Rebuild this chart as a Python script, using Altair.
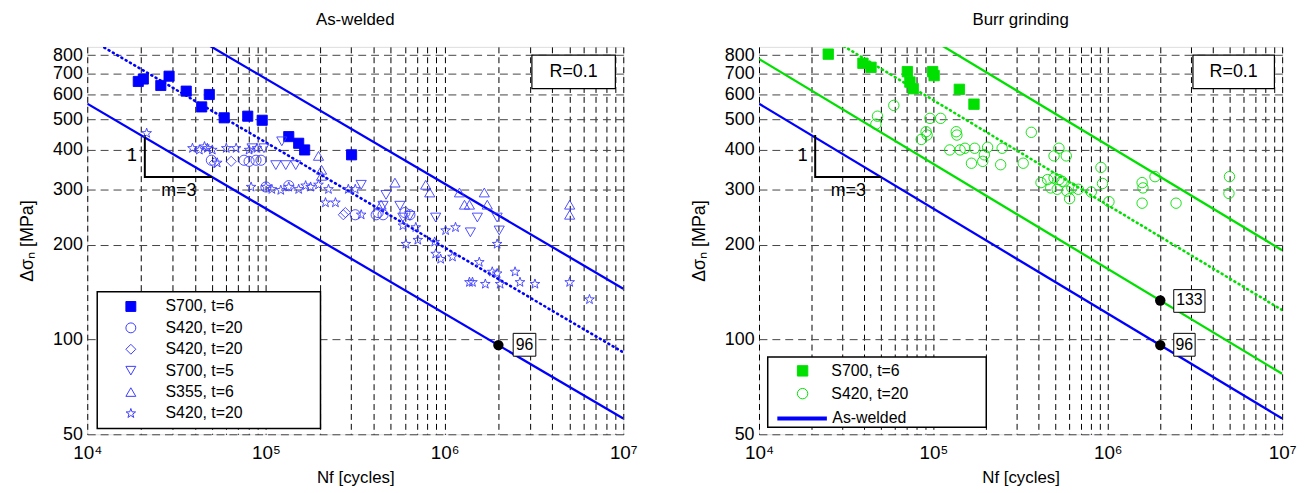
import altair as alt
import pandas as pd

FONT = "Liberation Sans"
BLUE = "#0000ff"
OBLUE = "#3c3cff"
GREEN = "#00e000"

# ---------------- data: As-welded panel ----------------
aw_s700_t6_N = [19300, 20600, 28700, 25800, 35800, 48200, 43700, 58400, 79100, 95300, 134200, 152500, 164700, 301500]
aw_s700_t6_S = [660, 672, 686, 641, 615, 600, 548, 506, 512, 497, 441, 420, 400, 386]

aw_s420_circ_N = [49500, 75400, 80500, 88000, 93800, 100000, 134200, 316200, 414000, 452500, 424600, 599500, 639100]
aw_s420_circ_S = [371, 371, 368, 371, 371, 305, 308, 249, 249, 249, 253, 253, 249]

aw_s420_diam_N = [51400, 63900, 271200, 278300]
aw_s420_diam_S = [364, 368, 249, 253]

aw_s700_t5_N = [83600, 97500, 113600, 129100, 146800, 122700, 341300, 470000, 452500, 562300, 891300, 584300, 1525000, 1968000, 639100, 2022000, 1394000]
aw_s700_t5_S = [405, 405, 358, 358, 358, 426, 310, 288, 266, 266, 244, 244, 244, 244, 247, 222, 219]

aw_s355_t6_N = [196900, 204800, 204800, 527300, 783800, 825500, 1211000, 1377000, 1668000, 1733000, 5012000, 5012000, 440900, 1292000]
aw_s355_t6_S = [383, 346, 331, 315, 310, 293, 293, 268, 293, 268, 268, 249, 268, 268]

aw_s420_star_N = [21500, 38800, 42400, 45300, 47000, 50100, 60000, 68100, 80500, 89100, 53400, 82600, 100000, 107900,
                  121100, 134200, 152500, 166800, 177800, 196900, 223900, 215400, 244900, 289100, 316200, 341300,
                  584300, 689900, 607300, 707900, 879800, 891300, 950600, 1107000, 1013000, 1151000, 1968000,
                  1564000, 1848000, 1968000, 2479000, 1377000, 1432000, 1690000, 2046000, 2642000, 3204000,
                  5012000, 6471000]
aw_s420_star_S = [452, 405, 400, 410, 405, 400, 405, 405, 400, 405, 364, 305, 305, 300,
                  298, 305, 300, 308, 305, 310, 300, 272, 272, 300, 300, 249,
                  230, 227, 201, 207, 204, 187, 180, 183, 222, 227, 201,
                  176, 164, 162, 164, 152, 152, 150, 150, 152, 150,
                  152, 134]

aw_labels = ["S700, t=6", "S420, t=20", "S420, t=20", "S700, t=5", "S355, t=6", "S420, t=20"]

# ---------------- data: Burr grinding panel ----------------
bg_s700_N = [24950, 39450, 43880, 70930, 73350, 76610, 99050, 100960, 140900, 170900]
bg_s700_S = [806, 754, 732, 709, 657, 626, 709, 689, 623, 559]

bg_s420_N = [59300, 47800, 46800, 95600, 110100, 90800, 92000, 85200, 135200, 136400, 124100, 142300, 151700,
             172500, 204600, 196000, 165300, 191900, 243100, 247900, 364400, 327400, 524800, 492000, 578100,
             414100, 451600, 492000, 524800, 547000, 471000, 512900, 583400, 622300, 677600, 604000, 804100,
             914100, 933300, 1016000, 1574000, 1592000, 1574000, 1866000, 2464000, 4989000, 4955000]
bg_s420_S = [554, 512, 483, 504, 504, 457, 446, 432, 457, 446, 400, 400, 405,
             405, 408, 386, 363, 368, 359, 405, 455, 363, 405, 383, 383,
             315, 322, 326, 322, 318, 303, 300, 296, 303, 300, 280, 294,
             352, 313, 274, 315, 303, 271, 329, 271, 329, 291]

bg_labels = ["S700, t=6", "S420, t=20"]
bg_line_label = "As-welded"

# ---------------- S-N lines (values at N = 1e4 and 1e7) ----------------
line_N = [1e4, 1e7]
aw_lower_S = [561, 56.1]     # FAT 96 (m=3)
aw_upper_S = [1450, 145]
aw_mean_S = [910, 91]
bg_lower_S = [778, 77.8]     # FAT 133 (m=3)
bg_upper_S = [1920, 192]
bg_mean_S = [1240, 124]

# slope triangle
tri_N = [21000, 21000, 50000]
tri_S = [446, 328, 328]

# characteristic values at 2e6
aw_fat_N = [2e6]
aw_fat_S = [96]
bg_fat_N = [2e6, 2e6]
bg_fat_S = [133, 96]

X_TICKS = [m * 10 ** e for e in (4, 5, 6) for m in range(1, 10)] + [10 ** 7]
Y_TICKS = [50, 100, 200, 300, 400, 500, 600, 700, 800]

STAR = ("M0,-1L0.235,-0.324L0.951,-0.309L0.380,0.124L0.588,0.809L0,0.4"
        "L-0.588,0.809L-0.380,0.124L-0.951,-0.309L-0.235,-0.324Z")

xscale = alt.Scale(type="log", domain=[1e4, 1e7], nice=False)
yscale = alt.Scale(type="log", domain=[50, 850], nice=False)

xaxis = alt.Axis(
    values=X_TICKS,
    labelExpr="datum.value==10000?'10⁴':datum.value==100000?'10⁵':datum.value==1000000?'10⁶':datum.value==10000000?'10⁷':''",
    grid=True, gridDash=[6, 4], gridColor="black", gridOpacity=1, gridWidth=1,
    ticks=False, domain=False, labelOverlap=False, labelFlush=False,
    labelFontSize=19, labelPadding=9, labelColor="black", labelFont=FONT,
    title="Nf [cycles]", titleFontSize=17, titleFontWeight="normal", titleFont=FONT,
    titlePadding=8, titleColor="black")
yaxis = alt.Axis(
    values=Y_TICKS, grid=True, gridDash=[8, 5], gridColor="#444444", gridOpacity=1, gridWidth=1,
    ticks=False, domain=False, labelOverlap=False, labelFlush=False,
    labelFontSize=18, labelPadding=5, labelColor="black", labelFont=FONT,
    title="Δσₙ [MPa]", titleFontSize=18, titleFontWeight="normal", titleFont=FONT,
    titlePadding=16, titleColor="black")


def X(f="N"):
    return alt.X(f + ":Q", scale=xscale, axis=xaxis)


def Y(f="S"):
    return alt.Y(f + ":Q", scale=yscale, axis=yaxis)


def df(N, S, **extra):
    d = pd.DataFrame({"N": N, "S": S})
    for k, v in extra.items():
        d[k] = v
    return d


def line_layer(S, color, dash=None, width=2.3):
    kw = dict(clip=True, color=color, strokeWidth=width)
    if dash:
        kw["strokeDash"] = dash
        kw["strokeCap"] = "round"
    return alt.Chart(df(line_N, S)).mark_line(**kw).encode(x=X(), y=Y())


def common_layers():
    tri = alt.Chart(df(tri_N, tri_S, o=[0, 1, 2])).mark_line(color="black", strokeWidth=2).encode(
        x=X(), y=Y(), order="o:Q")
    tri_txt = alt.Chart(pd.DataFrame({"N": [17800, 32500], "S": [383, 297], "t": ["1", "m=3"]})).mark_text(
        font=FONT, fontSize=18, color="black").encode(x=X(), y=Y(), text="t:N")
    rbox = alt.Chart(pd.DataFrame({"N": [3.08e6], "N2": [9.03e6], "S": [626], "S2": [800]})).mark_rect(
        fill="white", stroke="black", strokeWidth=1.2).encode(x=X(), x2="N2", y=Y(), y2="S2")
    rtxt = alt.Chart(pd.DataFrame({"N": [5.27e6], "S": [708], "t": ["R=0.1"]})).mark_text(
        font=FONT, fontSize=18, color="black").encode(x=X(), y=Y(), text="t:N")
    return [tri, tri_txt, rbox, rtxt]


def legend_box(N1, N2, S1, S2):
    return alt.Chart(pd.DataFrame({"N": [N1], "N2": [N2], "S": [S1], "S2": [S2]})).mark_rect(
        fill="white", stroke="black", strokeWidth=1.5).encode(x=X(), x2="N2", y=Y(), y2="S2")


def value_boxes(Nc, Sc, N1, N2, S1, S2, texts):
    box = alt.Chart(pd.DataFrame({"N": N1, "N2": N2, "S": S1, "S2": S2})).mark_rect(
        fill="white", stroke="black", strokeWidth=1).encode(x=X(), x2="N2", y=Y(), y2="S2")
    txt = alt.Chart(pd.DataFrame({"N": Nc, "S": Sc, "t": texts})).mark_text(
        font=FONT, fontSize=16, color="black").encode(x=X(), y=Y(), text="t:N")
    return [box, txt]


CLEAR = "rgba(0,0,0,0)"

# ---------------- As-welded panel ----------------
aw_series = [(aw_s700_t6_N, aw_s700_t6_S), (aw_s420_circ_N, aw_s420_circ_S), (aw_s420_diam_N, aw_s420_diam_S),
             (aw_s700_t5_N, aw_s700_t5_S), (aw_s355_t6_N, aw_s355_t6_S), (aw_s420_star_N, aw_s420_star_S)]
aw_pts = pd.concat([df(N, S, ka=str(i)) for i, (N, S) in enumerate(aw_series)], ignore_index=True)
aw_keys = [str(i) for i in range(6)]
aw_expr = "[" + ",".join("'" + l + "'" for l in aw_labels) + "][toNumber(datum.label)]"
aw_leg = alt.Legend(orient="none", legendX=36, legendY=254, title=None, strokeColor=CLEAR, fillColor=CLEAR,
                    padding=0, symbolOffset=0, labelOffset=27, rowPadding=5.6, labelFontSize=16, labelFont=FONT,
                    symbolSize=100, symbolStrokeWidth=1, labelExpr=aw_expr, labelColor="black")
aw_points = alt.Chart(aw_pts).mark_point(size=105, opacity=1, strokeWidth=0.9).encode(
    x=X(), y=Y(),
    shape=alt.Shape("ka:N", scale=alt.Scale(domain=aw_keys, range=["square", "circle", "diamond", "triangle-down",
                                                                    "triangle-up", STAR]), legend=aw_leg),
    fill=alt.Fill("ka:N", scale=alt.Scale(domain=aw_keys, range=[BLUE] + [CLEAR] * 5), legend=aw_leg),
    stroke=alt.Stroke("ka:N", scale=alt.Scale(domain=aw_keys, range=[BLUE] + [OBLUE] * 5), legend=aw_leg),
)
aw_dots = alt.Chart(df(aw_fat_N, aw_fat_S)).mark_circle(size=110, color="black", opacity=1).encode(x=X(), y=Y())

aw_chart = alt.layer(
    line_layer(aw_lower_S, BLUE), line_layer(aw_upper_S, BLUE), line_layer(aw_mean_S, BLUE, dash=[1, 4], width=2.6),
    *common_layers(),
    *value_boxes([2.8e6], [96], [2.42e6], [3.24e6], [88.5], [104.6], ["96"]),
    aw_dots, aw_points,
    legend_box(1.137e4, 2.02e5, 52.2, 141.9),
).properties(width=541, height=391,
             title=alt.Title("As-welded", fontSize=17, font=FONT, fontWeight="normal", offset=17, color="black"))

# ---------------- Burr grinding panel ----------------
bg_pts = pd.concat([df(bg_s700_N, bg_s700_S, kb="0"), df(bg_s420_N, bg_s420_S, kb="1")], ignore_index=True)
bg_keys = ["0", "1"]
bg_expr = "[" + ",".join("'" + l + "'" for l in bg_labels) + "][toNumber(datum.label)]"
bg_leg = alt.Legend(orient="none", legendX=36, legendY=319, title=None, strokeColor=CLEAR, fillColor=CLEAR,
                    padding=0, symbolOffset=0, labelOffset=21, rowPadding=7, labelFontSize=16, labelFont=FONT,
                    symbolSize=110, symbolStrokeWidth=1, labelExpr=bg_expr, labelColor="black")
bg_points = alt.Chart(bg_pts).mark_point(size=110, opacity=1, strokeWidth=0.9).encode(
    x=X(), y=Y(),
    shape=alt.Shape("kb:N", scale=alt.Scale(domain=bg_keys, range=["square", "circle"]), legend=bg_leg),
    fill=alt.Fill("kb:N", scale=alt.Scale(domain=bg_keys, range=[GREEN, CLEAR]), legend=bg_leg),
    stroke=alt.Stroke("kb:N", scale=alt.Scale(domain=bg_keys, range=[GREEN, GREEN]), legend=bg_leg),
)
bg_dots = alt.Chart(df(bg_fat_N, bg_fat_S)).mark_circle(size=110, color="black", opacity=1).encode(x=X(), y=Y())

line_leg = alt.Legend(orient="none", legendX=16.5, legendY=348, title=None, strokeColor=CLEAR, fillColor=CLEAR,
                      padding=0, symbolOffset=0, labelOffset=3.5, labelFontSize=16, labelFont=FONT,
                      labelColor="black", symbolType="stroke", symbolSize=2500, symbolStrokeWidth=4)
bg_aw_line = alt.Chart(df(line_N, aw_lower_S, lg=bg_line_label)).mark_line(clip=True, strokeWidth=2.3).encode(
    x=X(), y=Y(),
    color=alt.Color("lg:N", scale=alt.Scale(domain=[bg_line_label], range=[BLUE]), legend=line_leg))

bg_chart = alt.layer(
    bg_aw_line, line_layer(bg_lower_S, GREEN), line_layer(bg_upper_S, GREEN),
    line_layer(bg_mean_S, GREEN, dash=[1, 4], width=2.6),
    *common_layers(),
    *value_boxes([2.94e6, 2.75e6], [133, 96], [2.39e6, 2.39e6], [3.61e6, 3.17e6], [122, 88.5], [144, 104.6],
                 ["133", "96"]),
    bg_dots, bg_points,
    legend_box(1.122e4, 2.01e5, 52.6, 88.0),
).properties(width=528, height=391,
             title=alt.Title("Burr grinding", fontSize=17, font=FONT, fontWeight="normal", offset=17, color="black"))

chart = alt.hconcat(aw_chart, bg_chart, spacing=52).resolve_scale(
    shape="independent", fill="independent", stroke="independent", color="independent"
).resolve_legend(shape="independent", fill="independent", stroke="independent", color="independent").properties(
    padding={"left": 10, "top": 0, "right": 0, "bottom": 0}
).configure_view(stroke="black", strokeWidth=1.3).configure(background="white")

chart.save("out.html", embed_options={"renderer": "svg", "actions": False})
